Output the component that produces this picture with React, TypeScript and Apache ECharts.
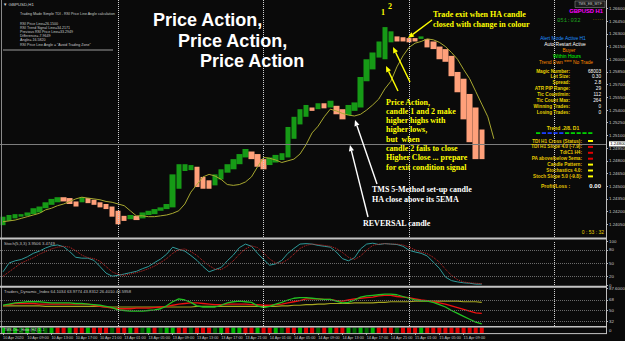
import React, { useEffect, useRef } from "react";
import * as echarts from "echarts";

const SLOT_COUNT = 100;
const TIME_LABELS = [
  "10 Apr 2020", "10 Apr 09:00", "10 Apr 13:00", "10 Apr 17:00", "10 Apr 21:00",
  "13 Apr 01:00", "13 Apr 05:00", "13 Apr 09:00", "13 Apr 13:00", "13 Apr 17:00",
  "13 Apr 21:00", "14 Apr 01:00", "14 Apr 05:00", "14 Apr 09:00", "14 Apr 13:00",
  "14 Apr 17:00", "14 Apr 21:00", "15 Apr 01:00", "15 Apr 05:00", "15 Apr 09:00",
];
const DAY_STARTS = [19, 43, 67, 91];

const HA_OPEN = [
  1.2404, 1.2409, 1.2412, 1.2414, 1.2415, 1.2417, 1.2419, 1.2424, 1.2428, 1.2431,
  1.2437, 1.2436, 1.2432, 1.2431, 1.2436, 1.2434, 1.2431, 1.2429, 1.2426, 1.2421,
  1.2415, 1.2411, 1.2415, 1.2412, 1.2416, 1.2417, 1.2421, 1.2423, 1.2425, 1.2447,
  1.2468, 1.2469, 1.2473, 1.2461, 1.2457, 1.2451, 1.2458, 1.2466, 1.2470, 1.2476,
  1.2484, 1.2491, 1.2488, 1.2482, 1.2475, 1.2478, 1.2481, 1.2484, 1.2506, 1.2523,
  1.2532, 1.2543, 1.2541, 1.2548, 1.2543, 1.2545, 1.2541, 1.2534, 1.2539, 1.2543,
  1.2574, 1.2588, 1.2602, 1.2600, 1.2620, 1.2627, 1.2626, 1.2625, 1.2625, 1.2624,
  1.2624, 1.2621, 1.2615, 1.2612, 1.2604, 1.2585, 1.2577, 1.2559, 1.2543, 1.2517,
];
const HA_CLOSE = [
  1.2414, 1.2416, 1.2417, 1.2417, 1.2419, 1.2424, 1.2426, 1.2431, 1.2435, 1.2437,
  1.2432, 1.2429, 1.2426, 1.2437, 1.2430, 1.2428, 1.2425, 1.2423, 1.2414, 1.2405,
  1.2409, 1.2416, 1.2410, 1.2419, 1.2421, 1.2423, 1.2425, 1.2429, 1.2464, 1.2476,
  1.2476, 1.2475, 1.2449, 1.2447, 1.2447, 1.2464, 1.2470, 1.2476, 1.2482, 1.2488,
  1.2494, 1.2482, 1.2473, 1.2470, 1.2484, 1.2487, 1.2489, 1.2520, 1.2532, 1.2541,
  1.2546, 1.2539, 1.2548, 1.2542, 1.2551, 1.2535, 1.2529, 1.2546, 1.2549, 1.2579,
  1.2600, 1.2608, 1.2621, 1.2638, 1.2633, 1.2621, 1.2621, 1.2620, 1.2621, 1.2627,
  1.2614, 1.2612, 1.2600, 1.2597, 1.2580, 1.2561, 1.2529, 1.2502, 1.2482, 1.2482,
];
// real candles: [open, close, low, high]
const REAL_CANDLES = [
  [1.2402, 1.2421, 1.2402, 1.2421], [1.2422, 1.2406, 1.2406, 1.2422], [1.2409, 1.2425, 1.2409, 1.2425],
  [1.2421, 1.2411, 1.2411, 1.2421], [1.2405, 1.2423, 1.2405, 1.2423], [1.2414, 1.2429, 1.2414, 1.2429],
  [1.2435, 1.2411, 1.2411, 1.2435], [1.2421, 1.2435, 1.2421, 1.2435], [1.2425, 1.2438, 1.2425, 1.2438],
  [1.2444, 1.2431, 1.2431, 1.2444], [1.2429, 1.2441, 1.2429, 1.2441], [1.2443, 1.2426, 1.2426, 1.2443],
  [1.2435, 1.2421, 1.2421, 1.2435], [1.2430, 1.2441, 1.2430, 1.2441], [1.2438, 1.2428, 1.2428, 1.2438],
  [1.2425, 1.2435, 1.2425, 1.2435], [1.2417, 1.2431, 1.2417, 1.2431], [1.2414, 1.2429, 1.2414, 1.2429],
  [1.2435, 1.2416, 1.2416, 1.2435], [1.2396, 1.2419, 1.2396, 1.2419], [1.2405, 1.2423, 1.2405, 1.2423],
  [1.2418, 1.2411, 1.2411, 1.2418], [1.2402, 1.2419, 1.2402, 1.2419], [1.2403, 1.2426, 1.2403, 1.2426],
  [1.2408, 1.2421, 1.2408, 1.2421], [1.2423, 1.2414, 1.2414, 1.2423], [1.2416, 1.2426, 1.2416, 1.2426],
  [1.2425, 1.2440, 1.2425, 1.2440], [1.2425, 1.2502, 1.2425, 1.2502], [1.2509, 1.2470, 1.2470, 1.2509],
  [1.2484, 1.2464, 1.2464, 1.2484], [1.2484, 1.2470, 1.2470, 1.2484], [1.2437, 1.2470, 1.2437, 1.2470],
  [1.2461, 1.2442, 1.2442, 1.2461], [1.2456, 1.2441, 1.2441, 1.2456], [1.2441, 1.2467, 1.2441, 1.2467],
  [1.2449, 1.2476, 1.2449, 1.2476], [1.2468, 1.2482, 1.2468, 1.2482], [1.2470, 1.2496, 1.2470, 1.2496],
  [1.2476, 1.2494, 1.2476, 1.2494], [1.2490, 1.2503, 1.2490, 1.2503], [1.2496, 1.2484, 1.2484, 1.2496],
  [1.2488, 1.2464, 1.2464, 1.2488], [1.2464, 1.2482, 1.2464, 1.2482], [1.2467, 1.2486, 1.2467, 1.2486],
  [1.2476, 1.2491, 1.2476, 1.2491], [1.2478, 1.2500, 1.2478, 1.2500], [1.2484, 1.2523, 1.2484, 1.2523],
  [1.2500, 1.2538, 1.2500, 1.2538], [1.2549, 1.2529, 1.2529, 1.2549], [1.2549, 1.2535, 1.2535, 1.2549],
  [1.2559, 1.2541, 1.2541, 1.2559], [1.2529, 1.2553, 1.2529, 1.2553], [1.2549, 1.2538, 1.2538, 1.2549],
  [1.2532, 1.2553, 1.2532, 1.2553], [1.2545, 1.2506, 1.2506, 1.2545], [1.2539, 1.2494, 1.2494, 1.2539],
  [1.2534, 1.2549, 1.2534, 1.2549], [1.2503, 1.2547, 1.2503, 1.2547], [1.2539, 1.2579, 1.2539, 1.2579],
  [1.2571, 1.2600, 1.2571, 1.2600], [1.2606, 1.2582, 1.2582, 1.2606], [1.2600, 1.2621, 1.2600, 1.2621],
  [1.2597, 1.2651, 1.2597, 1.2651], [1.2656, 1.2627, 1.2627, 1.2656], [1.2628, 1.2621, 1.2621, 1.2628],
  [1.2630, 1.2618, 1.2618, 1.2630], [1.2615, 1.2626, 1.2615, 1.2626], [1.2627, 1.2619, 1.2619, 1.2627],
  [1.2621, 1.2633, 1.2621, 1.2633], [1.2624, 1.2606, 1.2606, 1.2624], [1.2621, 1.2602, 1.2602, 1.2621],
  [1.2600, 1.2615, 1.2600, 1.2615], [1.2612, 1.2591, 1.2591, 1.2612], [1.2604, 1.2579, 1.2579, 1.2604],
  [1.2586, 1.2559, 1.2559, 1.2586], [1.2579, 1.2553, 1.2553, 1.2579], [1.2559, 1.2484, 1.2484, 1.2559],
  [1.2543, 1.2474, 1.2474, 1.2543], [1.2506, 1.2480, 1.2476, 1.2506],
];
const MA_LINE = [
  1.2408, 1.2409, 1.2410, 1.2412, 1.2414, 1.2416, 1.2418, 1.2422, 1.2424, 1.2427,
  1.2429, 1.2432, 1.2435, 1.2437, 1.2436, 1.2435, 1.2434, 1.2432, 1.2431, 1.2429,
  1.2427, 1.2421, 1.2415, 1.2415, 1.2414, 1.2414, 1.2415, 1.2416, 1.2418, 1.2421,
  1.2429, 1.2443, 1.2452, 1.2461, 1.2464, 1.2462, 1.2458, 1.2452, 1.2451, 1.2452,
  1.2455, 1.2461, 1.2473, 1.2484, 1.2483, 1.2481, 1.2478, 1.2480, 1.2482, 1.2488,
  1.2499, 1.2513, 1.2521, 1.2532, 1.2541, 1.2539, 1.2536, 1.2534, 1.2533, 1.2535,
  1.2540, 1.2546, 1.2553, 1.2565, 1.2574, 1.2591, 1.2604, 1.2614, 1.2619, 1.2621,
  1.2624, 1.2623, 1.2620, 1.2615, 1.2608, 1.2600, 1.2588, 1.2577, 1.2562, 1.2547,
  1.2532, 1.2506,
];
const CURRENT_PRICE = 1.248;
const PRICE_MIN = 1.239;
const PRICE_MAX = 1.267;
const PRICE_STEP = 0.0015;

const STOCH_K = [
  30, 50, 55, 58, 64, 72, 77, 84, 89, 91, 87, 76, 63, 61, 61, 56, 42, 27, 20, 22,
  25, 28, 31, 37, 42, 51, 59, 70, 86, 81, 77, 67, 56, 42, 30, 35, 40, 55, 68, 85,
  93, 88, 72, 58, 45, 48, 56, 72, 83, 93, 94, 93, 90, 88, 86, 75, 60, 55, 62, 82,
  93, 95, 92, 94, 93, 92, 88, 79, 75, 72, 66, 52, 38, 18, 10, 7, 5, 4, 2, 2,
];
const STOCH_D = [
  20, 30, 40, 50, 56, 62, 70, 76, 82, 86, 88, 86, 78, 68, 62, 60, 54, 42, 30, 24,
  22, 25, 28, 32, 37, 43, 51, 60, 72, 80, 82, 76, 67, 55, 44, 36, 35, 43, 55, 70,
  82, 89, 85, 73, 59, 50, 50, 58, 70, 83, 90, 93, 92, 90, 88, 83, 74, 63, 58, 66,
  79, 90, 93, 94, 93, 93, 91, 86, 80, 75, 71, 63, 52, 36, 22, 12, 7, 5, 4, 3,
];
const STOCH_LEVELS = [80, 50, 20];
const STOCH_TICKS = [100, 80, 50, 20, 0];

const TDI_GREEN = [
  59, 61, 63, 64, 65, 65, 65, 64, 63, 63, 63, 63, 62, 62, 61, 60, 59, 57, 55, 51,
  50, 49, 49, 49, 50, 51, 53, 58, 65, 70, 68, 64, 58, 56, 56, 56, 59, 63, 65, 66,
  65, 64, 58, 55, 57, 61, 64, 68, 71, 72, 72, 71, 70, 69, 69, 66, 63, 64, 68, 73,
  75, 76, 77, 78, 78, 77, 74, 71, 68, 67, 66, 64, 60, 56, 50, 45, 40, 35, 30, 27,
];
const TDI_RED = [
  58, 60, 62, 62, 62, 62, 61, 61, 61, 61, 61, 61, 61, 61, 61, 59, 57, 56, 54, 53,
  53, 53, 54, 54, 54, 55, 56, 57, 59, 61, 62, 63, 63, 62, 61, 60, 60, 61, 61, 61,
  61, 60, 60, 59, 59, 60, 61, 63, 65, 67, 70, 70, 70, 69, 69, 67, 66, 68, 70, 71,
  72, 73, 75, 76, 76, 74, 73, 72, 70, 68, 67, 65, 63, 61, 58, 55, 52, 49, 46, 45,
];
const TDI_YELLOW = [
  58, 58, 58, 58, 58, 58, 58, 57, 57, 57, 57, 57, 57, 57, 57, 57, 57, 56, 56, 56,
  56, 56, 56, 56, 56, 56, 56, 56, 56, 56, 56, 56, 57, 57, 57, 57, 57, 57, 57, 57,
  57, 57, 57, 57, 57, 57, 58, 58, 59, 59, 60, 60, 61, 61, 62, 62, 62, 62, 63, 63,
  63, 63, 64, 64, 65, 65, 65, 65, 66, 66, 66, 66, 66, 66, 66, 66, 65, 65, 65, 64,
];
const TDI_MIN = 23.43;
const TDI_MAX = 88.57;
const TDI_LEVELS = [68, 50, 32];
const TDI_TICKS = [87.6, 68, 50, 32];

const STRIP = (
  "GDGDGDGDG" + "RRGRRGRRRD" + "RRGRDGRDGG" + "RRDRRRDGRG" +
  "GRRGRRGDRR" + "GRRDRGRRGD" + "GDGRRRDRRR" + "GRRRRRRRRRR"
).split("");
const STRIP_COLORS: Record<string, string> = { G: "#00b400", D: "#006400", R: "#e00000" };

const STATS_LABELS = ["Magic Number:", "Lot Size:", "Spread:", "ATR PIP Range:", "Tic Count/min:", "Tic Count Max:", "Winning Trades:", "Losing Trades:"];
const STATS_VALUES = ["68003", "0.30", "2.8", "29", "112", "264", "0", "0"];
const TREND_DASHES = ["#00d000", "#1a3cff", "#1a3cff", "#1a3cff", "#1a3cff", "#00d000", "#00d000", "#00d000", "#00d000", "#00d000"];
const SIGNAL_LABELS = ["TDI H1 Cross (Status):", "TDI H1 Slope 4.0 (-7.9):", "TdiC1 H4:", "PA above/below 5ema:", "Candle Pattern:", "Stochastics 4.0:", "Stoch Slope 5.0 (-9.8):"];
const SIGNAL_COLORS = ["#ffff00", "#e00000", "#e00000", "#e00000", "#ffff00", "#ffff00", "#ffff00"];
const INFO_LINES = [
  "RSI Price Line=26.1500",
  "RSI Trend Signal Line=34.2171",
  "Previous RSI Price Line=33.2949",
  "Difference=-7.9649",
  "Angle=-16.5820",
  "RSI Price Line Angle = \"Avoid Trading Zone\"",
];
const PA_NOTE = [
  "Price Action,",
  "candle 1 and 2 make",
  "higher highs with",
  "higher lows,",
  "but  when",
  "candle 2 fails to close",
  "Higher Close ... prepare",
  "for exit condition signal",
];

const SANS = "Liberation Sans";
const SERIF = "Liberation Serif";

function txt(x: number, y: number, text: string, size: number, fill: string, extra: any = {}) {
  return {
    type: "text",
    x,
    y,
    z: 100,
    silent: true,
    style: {
      text,
      fill,
      fontSize: size,
      fontFamily: extra.family || SANS,
      fontWeight: extra.weight || "normal",
      align: extra.align || "left",
      verticalAlign: "middle",
    },
  };
}

function arrow(x1: number, y1: number, x2: number, y2: number, color: string) {
  const ang = Math.atan2(y2 - y1, x2 - x1);
  const L = 6;
  const W = 2.6;
  const bx = x2 - L * Math.cos(ang);
  const by = y2 - L * Math.sin(ang);
  const px = -Math.sin(ang) * W;
  const py = Math.cos(ang) * W;
  return [
    { type: "line", z: 100, silent: true, shape: { x1, y1, x2: bx, y2: by }, style: { stroke: color, lineWidth: 1.4 } },
    { type: "polygon", z: 100, silent: true, shape: { points: [[x2, y2], [bx + px, by + py], [bx - px, by - py]] }, style: { fill: color } },
  ];
}

function hline(x1: number, x2: number, y: number, color: string, w: number) {
  return { type: "line", z: 90, silent: true, shape: { x1, y1: y, x2, y2: y }, style: { stroke: color, lineWidth: w } };
}

export default function App() {
  const ref = useRef<HTMLDivElement>(null);

  useEffect(() => {
    document.body.style.margin = "0";
    if (!ref.current) return;
    const chart = echarts.init(ref.current, undefined, { renderer: "svg" });
    const cats = Array.from({ length: SLOT_COUNT }, (_, i) => String(i));
    const GRID_L = 0;
    const GRID_W = 606;

    const grids = [
      { left: GRID_L, width: GRID_W, top: 0, height: 237 },
      { left: GRID_L, width: GRID_W, top: 241, height: 44 },
      { left: GRID_L, width: GRID_W, top: 288, height: 38 },
      { left: GRID_L, width: GRID_W, top: 327.5, height: 5.5 },
    ].map((g) => ({ ...g, containLabel: false, outerBoundsMode: "none" }));

    const hiddenX = (gi: number) => ({
      type: "category",
      gridIndex: gi,
      data: cats,
      boundaryGap: true,
      axisLine: { show: false },
      axisTick: { show: false },
      axisLabel: { show: false },
      splitLine: { show: false },
    });

    const labelStyle = { color: "#c8c8c8", fontSize: 4.4, fontFamily: SANS, margin: 3 };

    const daySep = () =>
      DAY_STARTS.map((d) => ({
        xAxis: d,
        lineStyle: { color: "#cfcfcf", type: "dotted", width: 1 },
        label: { show: false },
      }));

    const levelLines = (levels: number[]) =>
      levels.map((v) => ({ yAxis: v, lineStyle: { color: "#6a6a6a", type: "dotted", width: 1 }, label: { show: false } }));

    const haData = HA_OPEN.map((o, i) => {
      const c = HA_CLOSE[i];
      return [o, c, Math.min(o, c), Math.max(o, c)];
    });

    const graphics: any[] = [];
    graphics.push({ type: "line", z: 90, silent: true, shape: { x1: 1.5, y1: 0, x2: 1.5, y2: 334 }, style: { stroke: "#8a8a8a", lineWidth: 1 } });
    graphics.push({ type: "line", z: 90, silent: true, shape: { x1: 606.5, y1: 0, x2: 606.5, y2: 334 }, style: { stroke: "#bdbdbd", lineWidth: 1 } });
    graphics.push(hline(0, 607, 238.5, "#c4c4c4", 2));
    graphics.push(hline(0, 607, 286.8, "#c4c4c4", 2));
    graphics.push(hline(0, 607, 326.8, "#c4c4c4", 1.5));
    graphics.push(hline(0, 607, 333.6, "#c4c4c4", 1));

    graphics.push(txt(3, 4, "\u25BC GBPUSD,H1", 4.4, "#d0d0d0"));
    graphics.push(txt(20, 14, "Trading Made Simple TDI - RSI Price Line Angle calculation", 3.6, "#c8c8c8"));
    INFO_LINES.forEach((l, k) => graphics.push(txt(20, 23.5 + k * 4.2, l, 3.6, "#c8c8c8")));
    graphics.push(hline(3, 113, 50, "#9a9a9a", 1));

    graphics.push(txt(153, 20, "Price Action,", 18, "#ffffff", { weight: "bold" }));
    graphics.push(txt(178, 41, "Price Action,", 18, "#ffffff", { weight: "bold" }));
    graphics.push(txt(200, 61, "Price Action", 18, "#ffffff", { weight: "bold" }));

    graphics.push(txt(433, 14.5, "Trade exit when HA candle", 8, "#ffff00", { family: SERIF, weight: "bold" }));
    graphics.push(txt(433, 24, "closed with change in colour", 8, "#ffff00", { family: SERIF, weight: "bold" }));
    PA_NOTE.forEach((l, k) => graphics.push(txt(386, 102 + k * 9.3, l, 8, "#ffff00", { family: SERIF, weight: "bold" })));
    graphics.push(txt(372, 189, "TMS 5-Method set-up candle", 8, "#ffffff", { family: SERIF, weight: "bold" }));
    graphics.push(txt(372, 199, "HA close above its 5EMA", 8, "#ffffff", { family: SERIF, weight: "bold" }));
    graphics.push(txt(363, 223, "REVERSAL candle", 8, "#ffffff", { family: SERIF, weight: "bold" }));
    graphics.push(txt(383, 12.5, "1", 8, "#ffff00", { family: SERIF, weight: "bold", align: "center" }));
    graphics.push(txt(390, 6.5, "2", 8, "#ffff00", { family: SERIF, weight: "bold", align: "center" }));
    graphics.push(...arrow(432, 20, 408, 38, "#ffff00"));
    graphics.push(...arrow(410, 82, 393, 47, "#ffff00"));
    graphics.push(...arrow(398, 91, 386, 66, "#ffff00"));
    graphics.push(...arrow(377, 184, 355, 120, "#ffffff"));
    graphics.push(...arrow(368, 217, 350, 145, "#ffffff"));

    graphics.push({ type: "rect", z: 95, silent: true, shape: { x: 575, y: 1, width: 30, height: 6.5 }, style: { fill: "#1c1c1c", stroke: "#8a8a8a", lineWidth: 0.6 } });
    graphics.push(txt(590, 4.3, "TMS_EB_MTF", 3.6, "#bdbdbd", { align: "center" }));
    graphics.push(txt(603, 10.5, "GBPUSD H1", 5.8, "#ff00ff", { weight: "bold", align: "right" }));
    graphics.push(txt(557, 20, "051:032", 5.6, "#1fa01f", { family: "Liberation Mono" }));
    graphics.push(txt(593, 19, "- - - - -", 3.6, "#e6d200"));
    graphics.push(txt(563, 38.5, "Alert Mode Active H1", 4.9, "#1e90ff", { align: "center" }));
    graphics.push(txt(565, 44.5, "Auto Restart Active", 4.9, "#ffffff", { align: "center" }));
    graphics.push(txt(569, 50.5, "Buyer", 4.9, "#ff8c00", { align: "center" }));
    graphics.push(txt(567, 56.5, "Within Hours", 4.9, "#00ff00", { align: "center" }));
    graphics.push(txt(566, 62.5, "Trend Dwn **** No Trade", 4.9, "#ff8c00", { align: "center" }));
    STATS_LABELS.forEach((l, k) => {
      graphics.push(txt(570, 71 + k * 5.9, l, 4.7, "#e6d200", { align: "right", weight: "bold" }));
      graphics.push(txt(601, 71 + k * 5.9, STATS_VALUES[k], 4.7, "#ffffff", { align: "right" }));
    });
    graphics.push(txt(563, 128, "Trend .2/8. D1", 5, "#e6d200", { align: "center", weight: "bold" }));
    TREND_DASHES.forEach((c, k) =>
      graphics.push({ type: "rect", z: 95, silent: true, shape: { x: 536 + k * 5.8, y: 132.2, width: 4.2, height: 1.8 }, style: { fill: c } })
    );
    SIGNAL_LABELS.forEach((l, k) => {
      graphics.push(txt(582, 141 + k * 5.9, l, 4.7, "#e6c700", { align: "right", weight: "bold" }));
      graphics.push({ type: "rect", z: 95, silent: true, shape: { x: 588, y: 140 + k * 5.9, width: 5, height: 2 }, style: { fill: SIGNAL_COLORS[k] } });
    });
    graphics.push(txt(541, 186, "Profit/Loss :", 5, "#e6c700", { weight: "bold" }));
    graphics.push(txt(601, 186, "0.00", 6, "#ffffff", { align: "right", weight: "bold" }));
    graphics.push(txt(604, 232, "0 : 53 : 32", 5, "#e6d200", { align: "right" }));

    graphics.push(txt(4, 243.5, "Stoch(5,3,3) 3.9506 3.4749", 4.2, "#c0c0c0"));
    graphics.push(txt(4, 291, "Traders_Dynamic_Index 64.1034 63.9774 43.8312 26.4010 44.5958", 4.2, "#c0c0c0"));
    graphics.push(txt(4, 330.3, "TMS-Osc_Histo (H4) 1 -1", 3.6, "#d0d0d0"));

    const option: any = {
      animation: false,
      backgroundColor: "#0a0a0a",
      textStyle: { fontFamily: SANS },
      grid: grids,
      xAxis: [
        hiddenX(0),
        hiddenX(1),
        hiddenX(2),
        {
          ...hiddenX(3),
          axisLabel: {
            show: true,
            interval: (i: number) => i % 4 === 0 && i / 4 < TIME_LABELS.length,
            formatter: (_v: string, i: number) => TIME_LABELS[i / 4] || "",
            align: "left",
            color: "#c8c8c8",
            fontSize: 3.8,
            fontFamily: SANS,
            margin: 2.5,
          },
          axisTick: {
            show: true,
            alignWithLabel: true,
            interval: (i: number) => i % 4 === 0 && i / 4 < TIME_LABELS.length,
            length: 2,
            lineStyle: { color: "#a0a0a0" },
          },
        },
      ],
      yAxis: [
        {
          type: "value",
          gridIndex: 0,
          position: "right",
          min: PRICE_MIN,
          max: PRICE_MAX,
          interval: PRICE_STEP,
          axisLine: { show: false },
          axisTick: { show: true, length: 2, lineStyle: { color: "#bdbdbd" } },
          axisLabel: { ...labelStyle, showMinLabel: false, showMaxLabel: false, formatter: (v: number) => v.toFixed(5) },
          splitLine: { show: false },
        },
        {
          type: "value",
          gridIndex: 1,
          position: "right",
          min: 0,
          max: 100,
          axisLine: { show: false },
          axisTick: { show: true, length: 2, customValues: STOCH_TICKS, lineStyle: { color: "#bdbdbd" } },
          axisLabel: { ...labelStyle, customValues: STOCH_TICKS, formatter: (v: number) => String(v) },
          splitLine: { show: false },
        },
        {
          type: "value",
          gridIndex: 2,
          position: "right",
          min: TDI_MIN,
          max: TDI_MAX,
          axisLine: { show: false },
          axisTick: { show: true, length: 2, customValues: TDI_TICKS, lineStyle: { color: "#bdbdbd" } },
          axisLabel: {
            ...labelStyle,
            customValues: TDI_TICKS,
            formatter: (v: number) => (TDI_LEVELS.includes(v) ? String(v) : v.toFixed(4)),
          },
          splitLine: { show: false },
        },
        {
          type: "value",
          gridIndex: 3,
          position: "right",
          min: 0,
          max: 1,
          axisLine: { show: false },
          axisTick: { show: false },
          axisLabel: { ...labelStyle, customValues: [0.5], formatter: () => "0" },
          splitLine: { show: false },
        },
      ],
      series: [
        {
          type: "candlestick",
          name: "HA",
          xAxisIndex: 0,
          yAxisIndex: 0,
          data: haData,
          barWidth: 6,
          itemStyle: { color: "#169a16", color0: "#ffa07a", borderColor: "#169a16", borderColor0: "#ffa07a", borderWidth: 0 },
          z: 2,
        },
        {
          type: "candlestick",
          name: "Real",
          xAxisIndex: 0,
          yAxisIndex: 0,
          data: REAL_CANDLES,
          barWidth: 1.2,
          itemStyle: { color: "#3ce63c", color0: "#e01010", borderColor: "#3ce63c", borderColor0: "#e01010", borderWidth: 0 },
          z: 3,
        },
        {
          type: "line",
          name: "MA",
          xAxisIndex: 0,
          yAxisIndex: 0,
          data: MA_LINE,
          showSymbol: false,
          symbol: "none",
          lineStyle: { color: "#a8a830", width: 1 },
          z: 4,
          markLine: {
            silent: true,
            symbol: ["none", "none"],
            animation: false,
            data: [
              ...daySep(),
              {
                yAxis: CURRENT_PRICE,
                lineStyle: { color: "#7d7d7d", type: "solid", width: 1 },
                label: {
                  show: true,
                  position: "end",
                  distance: 3,
                  formatter: () => CURRENT_PRICE.toFixed(5),
                  backgroundColor: "#ffffff",
                  color: "#000000",
                  fontSize: 4.4,
                  padding: [0.6, 1.2],
                },
              },
            ],
          },
        },
        {
          type: "line",
          name: "%K",
          xAxisIndex: 1,
          yAxisIndex: 1,
          data: STOCH_K,
          showSymbol: false,
          symbol: "none",
          lineStyle: { color: "#2f9a9a", width: 1 },
          markLine: {
            silent: true,
            symbol: ["none", "none"],
            animation: false,
            data: [...daySep(), ...levelLines(STOCH_LEVELS)],
          },
        },
        {
          type: "line",
          name: "%D",
          xAxisIndex: 1,
          yAxisIndex: 1,
          data: STOCH_D,
          showSymbol: false,
          symbol: "none",
          lineStyle: { color: "#c82828", width: 1, type: "dotted" },
        },
        {
          type: "line",
          name: "TDI signal",
          xAxisIndex: 2,
          yAxisIndex: 2,
          data: TDI_YELLOW,
          showSymbol: false,
          symbol: "none",
          lineStyle: { color: "#a6a620", width: 1.2 },
          markLine: {
            silent: true,
            symbol: ["none", "none"],
            animation: false,
            data: [...daySep(), ...levelLines(TDI_LEVELS)],
          },
        },
        {
          type: "line",
          name: "TDI red",
          xAxisIndex: 2,
          yAxisIndex: 2,
          data: TDI_RED,
          showSymbol: false,
          symbol: "none",
          lineStyle: { color: "#ee1111", width: 1.3 },
        },
        {
          type: "line",
          name: "TDI green",
          xAxisIndex: 2,
          yAxisIndex: 2,
          data: TDI_GREEN,
          showSymbol: false,
          symbol: "none",
          lineStyle: { color: "#22c022", width: 1.3 },
        },
        {
          type: "bar",
          name: "TMS osc",
          xAxisIndex: 3,
          yAxisIndex: 3,
          barWidth: 4,
          data: STRIP.map((s) => ({ value: 1, itemStyle: { color: STRIP_COLORS[s] } })),
        },
      ],
      graphic: { elements: graphics },
    };

    chart.setOption(option);
    return () => chart.dispose();
  }, []);

  return <div ref={ref} style={{ width: 625, height: 341, background: "#0a0a0a" }} />;
}
